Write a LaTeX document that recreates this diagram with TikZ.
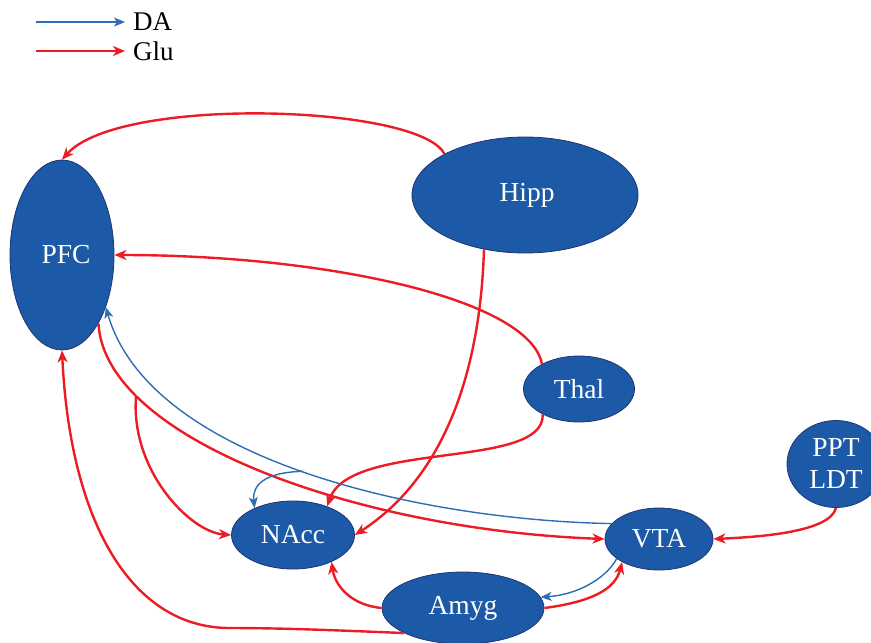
\documentclass[tikz,border=0pt]{standalone}
\usepackage{fontspec}
\setmainfont{Liberation Serif}
\usetikzlibrary{shapes.geometric,arrows.meta}
\definecolor{nodefill}{RGB}{28,90,168}
\definecolor{nodeedge}{RGB}{32,52,112}
\definecolor{glured}{RGB}{237,28,36}
\definecolor{dablue}{RGB}{46,108,180}
\tikzset{
  region/.style={ellipse, fill=nodefill, draw=nodeedge, line width=0.8pt, inner sep=0pt,
    text=white, font=\fontsize{27.5}{32}\selectfont, align=center},
  glu/.style={draw=glured, line width=2.4pt,
    -{Stealth[length=12pt,width=10pt,inset=3.5pt,fill=glured]}},
  da/.style={draw=dablue, line width=1.4pt,
    -{Stealth[length=11pt,width=9pt,inset=3pt,fill=dablue]}},
  legtext/.style={anchor=west, inner sep=0pt, font=\fontsize{27}{32}\selectfont}
}
\begin{document}
\begin{tikzpicture}[x=1pt,y=-1pt]
\useasboundingbox (0,0) rectangle (871,643);
% legend
\coordinate (das) at (36,22);
\coordinate (glus) at (36,51);
\node[legtext] (dal) at (133,22) {DA};
\node[legtext] (glul) at (133,51) {Glu};
\draw[da] (das) -- ([xshift=-8pt]dal.west);
\draw[glu] (glus) -- ([xshift=-8pt]glul.west);
% nodes
\node[region, minimum width=104pt, minimum height=190pt] (PFC) at (62,255) {\hspace*{8pt}PFC};
\node[region, minimum width=226pt, minimum height=116pt] (Hipp) at (525,195) {\hspace*{4pt}Hipp};
\node[region, minimum width=111pt, minimum height=66pt] (Thal) at (579,389) {Thal};
\node[region, minimum width=98pt, minimum height=87pt] (PPT) at (836,464) {PPT\\LDT};
\node[region, minimum width=123pt, minimum height=68pt] (NAcc) at (293,535) {NAcc};
\node[region, minimum width=108pt, minimum height=62pt] (VTA) at (659,539) {VTA};
\node[region, minimum width=162pt, minimum height=72pt] (Amyg) at (463,608) {Amyg};
% glutamate connectors
\draw[glu] (Hipp.153) .. controls (420,105) and (120,95) .. (PFC.north);
\draw[glu] (Hipp.233) .. controls (480,380) and (440,480) .. (NAcc.east);
\draw[glu] (Thal.146) .. controls (530,300) and (330,255) .. (PFC.east);
\draw[glu] (Thal.215) .. controls (545,470) and (350,440) .. (NAcc.40);
\draw[glu] (PFC.-62) .. controls (105,440) and (360,530) .. coordinate[pos=0.22] (pfcbr) (VTA.west);
\draw[glu] (pfcbr) .. controls (130,470) and (190,532) .. (NAcc.west);
\draw[glu] (Amyg.west) .. controls (350,605) and (335,585) .. (NAcc.-35);
\draw[glu] (Amyg.east) .. controls (590,602) and (615,590) .. (VTA.212);
\draw[glu] (Amyg.203) .. controls (330,630) and (280,628) .. (227,628) .. controls (130,626) and (70,520) .. (PFC.south);
\draw[glu] (PPT.south) .. controls (830,532) and (760,537) .. (VTA.east);
% dopamine connectors
\draw[da] (VTA.162) .. controls (420,520) and (150,460) .. coordinate[pos=0.5] (vtabr) (PFC.-50);
\draw[da] (vtabr) .. controls (265,472) and (252,485) .. (NAcc.145);
\draw[da] (VTA.205) .. controls (605,580) and (575,595) .. (Amyg.8);
\end{tikzpicture}
\end{document}
